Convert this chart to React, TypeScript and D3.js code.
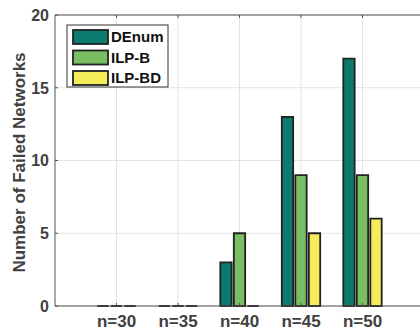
import { useEffect, useRef } from 'react'
import * as d3 from 'd3'

const categories = [30, 35, 40, 45, 50]
const seriesNames = ['DEnum', 'ILP-B', 'ILP-BD']
const denum = [0, 0, 3, 13, 17]
const ilpB = [0, 0, 5, 9, 9]
const ilpBD = [0, 0, 0, 5, 6]
const yTicks = [0, 5, 10, 15, 20]

const colors = ['#0a7b6c', '#79be63', '#f4ec58']

export default function App() {
  const svgRef = useRef<SVGSVGElement>(null)

  useEffect(() => {
    document.body.style.margin = '0'
    if (!svgRef.current) return
    const svg = d3.select(svgRef.current)
    svg.selectAll('*').remove()

    const width = 420
    const height = 330
    const left = 55
    const top = 15
    const bottom = 306
    const right = 424

    const font = '"Liberation Sans", Arial, Helvetica, sans-serif'
    const textColor = '#404040'

    const x = d3.scaleLinear().domain([25, 55]).range([left, right])
    const y = d3.scaleLinear().domain([0, 20]).range([bottom, top])
    const inner = d3.scaleBand<string>().domain(seriesNames).range([-19.2, 19.2]).paddingInner(0.16)

    const values = [denum, ilpB, ilpBD]

    const g = svg.append('g')

    // grid
    g.selectAll('.gy').data(yTicks).enter().append('line')
      .attr('x1', left).attr('x2', right)
      .attr('y1', d => y(d)).attr('y2', d => y(d))
      .attr('stroke', '#e3e3e3').attr('stroke-width', 1)
    g.selectAll('.gx').data(categories).enter().append('line')
      .attr('x1', d => x(d)).attr('x2', d => x(d))
      .attr('y1', top).attr('y2', bottom)
      .attr('stroke', '#e3e3e3').attr('stroke-width', 1)

    // bars (drawn as paths so zero-height bars still show their outline)
    const bw = inner.bandwidth()
    seriesNames.forEach((name, si) => {
      g.selectAll('.bar' + si).data(categories).enter().append('path')
        .attr('d', (d, i) => {
          const x0 = x(d) + (inner(name) ?? 0)
          const y0 = y(values[si][i])
          const h = y(0) - y0
          return `M${x0},${y0}h${bw}v${h}h${-bw}Z`
        })
        .attr('fill', colors[si])
        .attr('stroke', '#222')
        .attr('stroke-width', 1.8)
    })

    // axes
    g.append('line').attr('x1', left).attr('x2', right).attr('y1', bottom).attr('y2', bottom)
      .attr('stroke', '#555').attr('stroke-width', 1)
    g.append('line').attr('x1', left).attr('x2', right).attr('y1', top).attr('y2', top)
      .attr('stroke', '#555').attr('stroke-width', 1)
    g.append('line').attr('x1', left).attr('x2', left).attr('y1', top).attr('y2', bottom)
      .attr('stroke', '#555').attr('stroke-width', 1)

    // tick marks
    g.selectAll('.tb').data(categories).enter().append('line')
      .attr('x1', d => x(d)).attr('x2', d => x(d))
      .attr('y1', bottom).attr('y2', bottom - 3)
      .attr('stroke', '#555')
    g.selectAll('.tt').data(categories).enter().append('line')
      .attr('x1', d => x(d)).attr('x2', d => x(d))
      .attr('y1', top).attr('y2', top + 3)
      .attr('stroke', '#555')
    g.selectAll('.tl').data(yTicks).enter().append('line')
      .attr('x1', left).attr('x2', left + 3)
      .attr('y1', d => y(d)).attr('y2', d => y(d))
      .attr('stroke', '#555')

    // tick labels
    g.selectAll('.yl').data(yTicks).enter().append('text')
      .attr('x', left - 6).attr('y', d => y(d)).attr('dy', '0.36em')
      .attr('text-anchor', 'end')
      .style('font-family', font).style('font-weight', 'bold').style('font-size', '16px')
      .style('fill', textColor)
      .text(d => d)
    g.selectAll('.xl').data(categories).enter().append('text')
      .attr('x', d => x(d)).attr('y', 327)
      .attr('text-anchor', 'middle')
      .style('font-family', font).style('font-weight', 'bold').style('font-size', '17px')
      .style('fill', textColor)
      .text(d => `n=${d}`)

    g.append('text')
      .attr('transform', `translate(25, ${(top + bottom) / 2 + 2}) rotate(-90)`)
      .attr('text-anchor', 'middle')
      .style('font-family', font).style('font-weight', 'bold').style('font-size', '17px')
      .style('fill', textColor)
      .text('Number of Failed Networks')

    // legend
    const lg = g.append('g').attr('transform', 'translate(67, 25)')
    lg.append('rect').attr('width', 101).attr('height', 62)
      .attr('fill', '#fff').attr('stroke', '#333').attr('stroke-width', 1)
    seriesNames.forEach((name, i) => {
      lg.append('rect')
        .attr('x', 6).attr('y', 5 + i * 20.5).attr('width', 35).attr('height', 14)
        .attr('fill', colors[i]).attr('stroke', '#222').attr('stroke-width', 1.8)
      lg.append('text')
        .attr('x', 44).attr('y', 12 + i * 20.5).attr('dy', '0.36em')
        .style('font-family', font).style('font-weight', 'bold').style('font-size', '15px')
        .style('fill', '#111')
        .text(name)
    })

    svg.attr('width', width).attr('height', height)
  }, [])

  return <svg ref={svgRef} style={{ display: 'block' }}></svg>
}
